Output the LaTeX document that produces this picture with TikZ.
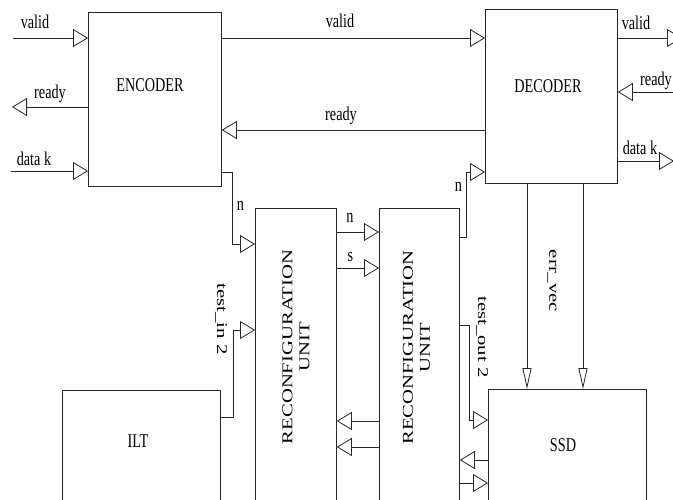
\documentclass[tikz,border=0pt]{standalone}
\usepackage{fontspec}
\setmainfont{Liberation Serif}
\newfontfamily\hfont[FakeStretch=0.73]{Liberation Serif}
\newfontfamily\vfont[FakeStretch=1.38]{Liberation Serif}
\usetikzlibrary{arrows.meta}
\begin{document}
\begin{tikzpicture}[x=1pt,y=-1pt,
 box/.style={draw=black!85, line width=0.8pt, anchor=north west, inner sep=0pt},
 wire/.style={draw=black!85, line width=0.8pt},
 arr/.style={wire, -{Triangle[open,length=15pt,width=18pt]}},
 varr/.style={wire, -{Triangle[open,length=21pt,width=9pt]}},
 lbl/.style={font=\hfont\fontsize{19.5}{22}\selectfont, inner sep=0pt, text=black},
 rlbl/.style={font=\vfont\fontsize{15}{17}\selectfont, inner sep=0pt, align=center, text=black}
]
\clip (0,0) rectangle (673,499);
% boxes
\node[box, minimum width=133pt, minimum height=174pt] (enc) at (88,12) {};
\node[lbl] (enct) at (150,85) {ENCODER};
\node[box, minimum width=132pt, minimum height=174pt] (dec) at (485,9) {};
\node[lbl] (dect) at (548,86) {DECODER};
\node[box, minimum width=81pt, minimum height=320pt] (ru1) at (255,208) {};
\node[rlbl, rotate=90] (ru1t) at (296,347) {RECONFIGURATION\\UNIT};
\node[box, minimum width=80pt, minimum height=320pt] (ru2) at (379,208) {};
\node[rlbl, rotate=90] (ru2t) at (416.5,347.5) {RECONFIGURATION\\UNIT};
\node[box, minimum width=158pt, minimum height=150pt] (ilt) at (62,390) {};
\node[lbl] (iltt) at (138,441) {ILT};
\node[box, minimum width=158pt, minimum height=150pt] (ssd) at (488,389) {};
\node[lbl] (ssdt) at (563,445) {SSD};
% encoder side
\coordinate (vin) at (13,38);
\draw[arr] (vin) -- (vin -| enc.west);
\coordinate (rout) at (12,107);
\draw[arr] (rout -| enc.west) -- (rout);
\coordinate (din) at (11,171);
\draw[arr] (din) -- (din -| enc.west);
\draw[arr] (vin -| enc.east) -- (vin -| dec.west);
\coordinate (rmid) at (300,130);
\draw[arr] (rmid -| dec.west) -- (rmid -| enc.east);
\coordinate (nb1) at (232,172); \coordinate (nb2) at (232,244);
\draw[arr] (nb1 -| enc.east) -- (nb1) -- (nb2) -- (nb2 -| ru1.west);
\coordinate (nrow) at (350,232); \coordinate (srow) at (350,268);
\draw[arr] (nrow -| ru1.east) -- (nrow -| ru2.west);
\draw[arr] (srow -| ru1.east) -- (srow -| ru2.west);
\coordinate (nd1) at (466,237); \coordinate (nd2) at (466,172);
\draw[arr] (nd1 -| ru2.east) -- (nd1) -- (nd2) -- (nd2 -| dec.west);
% decoder side
\coordinate (vout) at (682,38);
\draw[arr] (vout -| dec.east) -- (vout);
\coordinate (rin) at (680,92);
\draw[arr] (rin) -- (rin -| dec.east);
\coordinate (dout) at (674,161);
\draw[arr] (dout -| dec.east) -- (dout);
\coordinate (e1) at (527,300); \coordinate (e2) at (583,300);
\draw[varr] (e1 |- dec.south) -- (e1 |- ssd.north);
\draw[varr] (e2 |- dec.south) -- (e2 |- ssd.north);
% lower part
\coordinate (t1) at (233,417); \coordinate (t2) at (233,330);
\draw[arr] (t1 -| ilt.east) -- (t1) -- (t2) -- (t2 -| ru1.west);
\coordinate (b1) at (350,421); \coordinate (b2) at (350,447);
\draw[arr] (b1 -| ru2.west) -- (b1 -| ru1.east);
\draw[arr] (b2 -| ru2.west) -- (b2 -| ru1.east);
\coordinate (o1) at (469,325); \coordinate (o2) at (469,420);
\draw[arr] (o1 -| ru2.east) -- (o1) -- (o2) -- (o2 -| ssd.west);
\coordinate (s1) at (470,460); \coordinate (s2) at (470,483);
\draw[arr] (s1 -| ssd.west) -- (s1 -| ru2.east);
\draw[arr] (s2 -| ru2.east) -- (s2 -| ssd.west);
% labels
\node[lbl, anchor=base] (l1) at (35,28) {valid};
\node[lbl, anchor=base] (l2) at (50,98) {ready};
\node[lbl, anchor=base] (l3) at (34,165) {data k};
\node[lbl, anchor=base] (l4) at (340,27) {valid};
\node[lbl, anchor=base] (l5) at (341,120) {ready};
\node[lbl, anchor=base] (l6) at (636,29) {valid};
\node[lbl, anchor=base east] (l7) at (672,85) {ready};
\node[lbl, anchor=base] (l8) at (640,154) {data k};
\node[lbl, anchor=base] (l9) at (240.5,210) {n};
\node[lbl, anchor=base] (l10) at (350,222) {n};
\node[lbl, anchor=base] (l11) at (350.5,261) {s};
\node[lbl, anchor=base] (l12) at (458.5,191) {n};
\node[rlbl, rotate=-90] (l13) at (221,319) {test\_in 2};
\node[rlbl, rotate=-90] (l14) at (482,337) {test\_out 2};
\node[rlbl, rotate=-90] (l15) at (552,281) {err\_vec};
\end{tikzpicture}
\end{document}
